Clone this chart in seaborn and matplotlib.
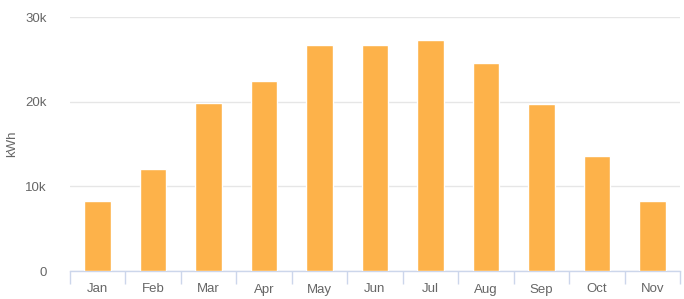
import matplotlib
matplotlib.use("Agg")
import matplotlib.pyplot as plt
import seaborn as sns
import pandas as pd
import numpy as np
from matplotlib.ticker import FixedLocator

months = ["Jan", "Feb", "Mar", "Apr", "May", "Jun", "Jul", "Aug", "Sep", "Oct", "Nov"]
energy = [8300, 12000, 19800, 22400, 26700, 26700, 27300, 24600, 19700, 13600, 8300]
yticks = [0, 10000, 20000, 30000]
ylabels = ["0", "10k", "20k", "30k"]

sns.set_theme(style="white")
plt.rcParams['font.family'] = ['Liberation Sans', 'DejaVu Sans']

df = pd.DataFrame({"month": months, "kWh": energy})

fig = plt.figure(figsize=(6.84, 2.99), dpi=100)
ax = fig.add_axes([70/684, 28/299, 610/684, 254/299])
sns.barplot(data=df, x="month", y="kWh", color="#fdb24a", saturation=1, width=0.48, ax=ax, zorder=3)

ax.set_ylim(0, 30000)
ax.set_xlim(-0.5, len(months) - 0.5)
ax.set_yticks(yticks)
ax.set_yticklabels(ylabels)
ax.grid(axis="y", color="#e6e6e6", linewidth=1, zorder=0)
ax.set_axisbelow(True)
for s in ["top", "right", "left"]:
    ax.spines[s].set_visible(False)
ax.spines["bottom"].set_color("#ccd6eb")
ax.spines["bottom"].set_linewidth(1)
ax.xaxis.set_minor_locator(FixedLocator(np.arange(-0.5, len(months), 1.0)))
ax.tick_params(axis="x", which="major", bottom=True, length=0, labelsize=9.5, labelcolor="#666666", pad=9)
ax.tick_params(axis="x", which="minor", bottom=True, length=9, color="#ccd6eb", width=1, direction="out")
ax.tick_params(axis="y", length=0, labelsize=9.5, labelcolor="#666666", pad=17)
ax.set_xlabel("")
ax.set_ylabel("kWh", fontsize=9.5, color="#666666")
ax.yaxis.set_label_coords(-0.085, 0.5)

fig.savefig("out.png", dpi=100)
